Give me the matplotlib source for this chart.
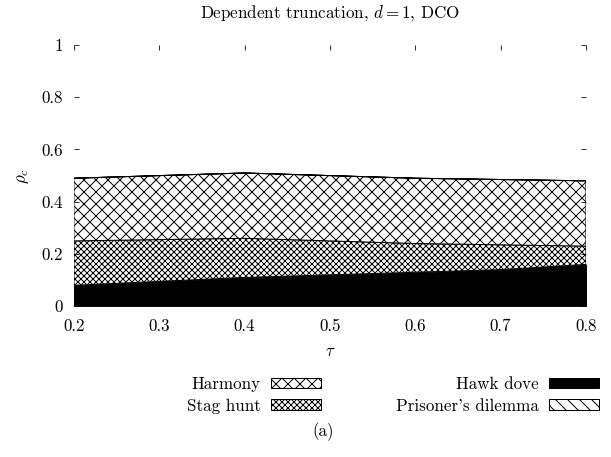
import matplotlib
matplotlib.use("Agg")
import matplotlib.pyplot as plt
from matplotlib.patches import Patch

plt.rcParams['font.family'] = 'cmr10'
plt.rcParams['mathtext.fontset'] = 'cm'
plt.rcParams['axes.formatter.use_mathtext'] = True
plt.rcParams['hatch.linewidth'] = 1.0

# values (stacked areas, bottom to top)
tau = [0.2, 0.3, 0.4, 0.5, 0.6, 0.7, 0.8]
hawk_dove = [0.08, 0.095, 0.11, 0.12, 0.13, 0.14, 0.16]
stag_hunt = [0.17, 0.16, 0.15, 0.13, 0.11, 0.095, 0.07]
harmony = [0.24, 0.245, 0.25, 0.25, 0.25, 0.25, 0.25]
prisoners = [0, 0, 0, 0, 0, 0, 0]

xticks = [0.2, 0.3, 0.4, 0.5, 0.6, 0.7, 0.8]
xticklabels = ['0.2', '0.3', '0.4', '0.5', '0.6', '0.7', '0.8']
yticks = [0, 0.2, 0.4, 0.6, 0.8, 1]
yticklabels = ['0', '0.2', '0.4', '0.6', '0.8', '1']

FS = 17

fig = plt.figure(figsize=(611 / 72, 457 / 72), dpi=72)
ax = fig.add_axes([0.121, 0.330, 0.838, 0.5715])

# cumulative sums for stacking
lvl0 = [0.0] * len(tau)
lvl1 = [a + b for a, b in zip(lvl0, hawk_dove)]
lvl2 = [a + b for a, b in zip(lvl1, stag_hunt)]
lvl3 = [a + b for a, b in zip(lvl2, harmony)]
lvl4 = [a + b for a, b in zip(lvl3, prisoners)]

ax.fill_between(tau, lvl0, lvl1, facecolor='black', edgecolor='black', linewidth=1)
ax.fill_between(tau, lvl1, lvl2, facecolor='white', edgecolor='black', hatch='xxxx', linewidth=1)
ax.fill_between(tau, lvl2, lvl3, facecolor='white', edgecolor='black', hatch='xx', linewidth=1)
ax.fill_between(tau, lvl3, lvl4, facecolor='white', edgecolor='black', hatch='\\\\', linewidth=1)

ax.set_xlim(0.2, 0.8)
ax.set_ylim(0, 1)
ax.set_xticks(xticks)
ax.set_xticklabels(xticklabels)
ax.set_yticks(yticks)
ax.set_yticklabels(yticklabels)
for s in ax.spines.values():
    s.set_visible(False)
ax.tick_params(direction='in', length=5, width=0.8, top=True, right=True,
               labelsize=FS)
ax.tick_params(axis='x', pad=12)
ax.tick_params(axis='y', pad=11)

ax.set_xlabel(r'$\tau$', fontsize=FS, labelpad=10)
ax.set_ylabel(r'$\rho_c$', fontsize=FS, labelpad=10)
ax.set_title(r'Dependent truncation, $d=1$, DCO', fontsize=FS, pad=27)

handles = [Patch(facecolor='white', edgecolor='black', hatch='xx', label='Harmony'),
           Patch(facecolor='white', edgecolor='black', hatch='xxxx', label='Stag hunt'),
           Patch(facecolor='black', edgecolor='black', label='Hawk dove'),
           Patch(facecolor='white', edgecolor='black', hatch='\\\\', label="Prisoner's dilemma")]
fig.legend(handles=handles, ncol=2, markerfirst=False, frameon=False, fontsize=FS,
           loc='upper right', bbox_to_anchor=(599 / 611, 1 - 377 / 457),
           handlelength=2.94, handleheight=0.55, handletextpad=0.6,
           columnspacing=4.4, labelspacing=0.35, borderpad=0, borderaxespad=0)

fig.text(323 / 611, 1 - 432 / 457, '(a)', fontsize=FS, ha='center', va='center')

fig.savefig('out.png', dpi=72)
